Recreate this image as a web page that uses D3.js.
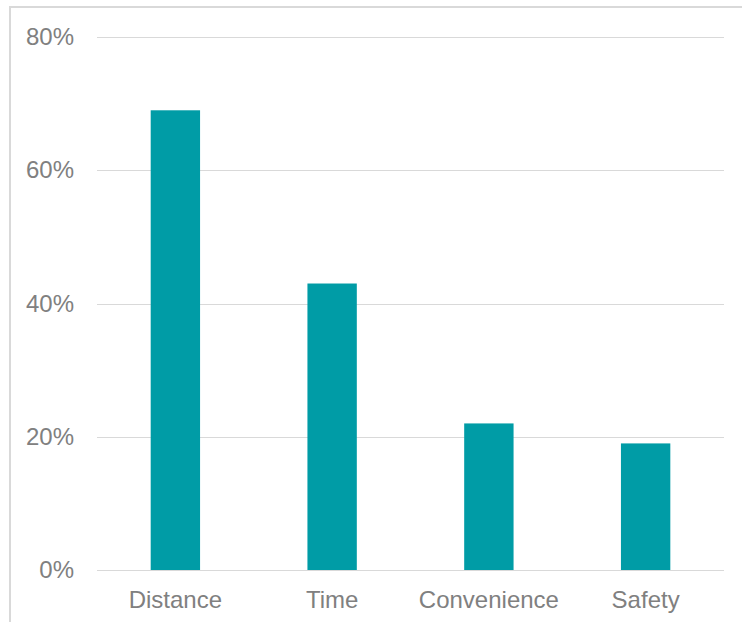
<!DOCTYPE html>
<html>
<head>
<meta charset="utf-8">
<script src="https://cdn.jsdelivr.net/npm/d3@7"></script>
<style>
  body { margin: 0; background: #fff; }
  text { font-family: "Liberation Sans", Arial, sans-serif; }
</style>
</head>
<body>
<div id="chart"></div>
<script>
// data
var categories = ["Distance", "Time", "Convenience", "Safety"];
var shares = [0.69, 0.43, 0.22, 0.19];
var yTicks = [0, 0.2, 0.4, 0.6, 0.8];

var width = 742, height = 622;
var plotLeft = 97, plotRight = 724, plotTop = 37, plotBottom = 570;

var svg = d3.select("#chart").append("svg")
  .attr("width", width)
  .attr("height", height);

// outer frame of the chart area
svg.append("rect")
  .attr("x", 10).attr("y", 7)
  .attr("width", 740).attr("height", 640)
  .attr("fill", "none")
  .attr("stroke", "#d9d9d9")
  .attr("stroke-width", 2);

var x = d3.scaleBand()
  .domain(categories)
  .range([plotLeft, plotRight])
  .paddingInner(0.685)
  .paddingOuter(0.3425);

var y = d3.scaleLinear()
  .domain([0, 0.8])
  .range([plotBottom, plotTop]);

// gridlines
svg.append("g")
  .selectAll("line")
  .data(yTicks)
  .enter().append("line")
  .attr("x1", plotLeft).attr("x2", plotRight)
  .attr("y1", function(d) { return Math.round(y(d)) + 0.5; })
  .attr("y2", function(d) { return Math.round(y(d)) + 0.5; })
  .attr("stroke", "#d9d9d9")
  .attr("stroke-width", 1);

// y labels
var yAxis = d3.axisLeft(y).tickValues(yTicks).tickFormat(d3.format(".0%")).tickSize(0).tickPadding(23);
svg.append("g")
  .attr("transform", "translate(" + plotLeft + ",0)")
  .call(yAxis)
  .call(function(g) { g.select(".domain").remove(); })
  .selectAll("text")
  .attr("fill", "#808080")
  .style("font-size", "24px");

// bars
svg.append("g")
  .selectAll("rect")
  .data(shares)
  .enter().append("rect")
  .attr("x", function(d, i) { return x(categories[i]); })
  .attr("y", function(d) { return y(d); })
  .attr("width", x.bandwidth())
  .attr("height", function(d) { return plotBottom - y(d); })
  .attr("fill", "#009ca6");

// x labels
var xAxis = d3.axisBottom(x).tickSize(0).tickPadding(21);
svg.append("g")
  .attr("transform", "translate(0," + plotBottom + ")")
  .call(xAxis)
  .call(function(g) { g.select(".domain").remove(); })
  .selectAll("text")
  .attr("fill", "#808080")
  .style("font-size", "24px");
</script>
</body>
</html>
